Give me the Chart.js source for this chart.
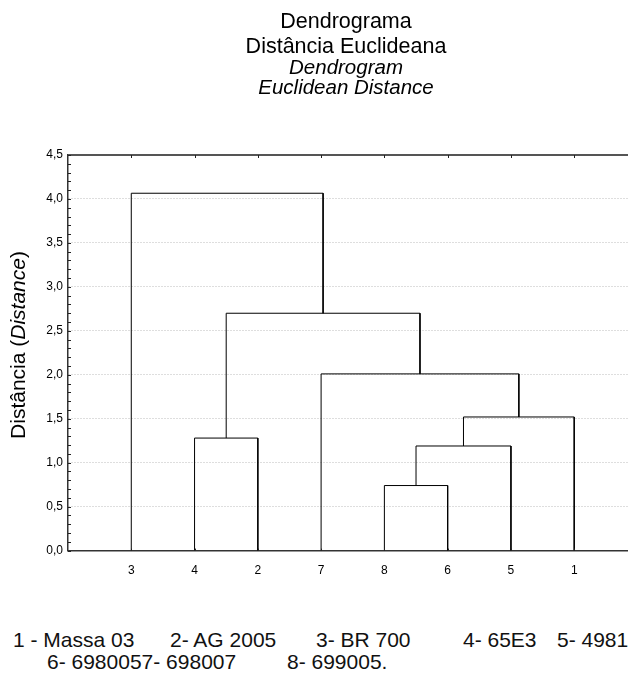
<!DOCTYPE html>
<html lang="pt">
<head>
    <meta charset="UTF-8">
    <title>Dendrograma - Distância Euclideana</title>
    <script src="https://cdn.jsdelivr.net/npm/chart.js"></script>
    <style>
        body { margin: 0; background: #fff; font-family: "Liberation Sans", Arial, sans-serif; }
        .wrap { position: relative; width: 628px; height: 673px; overflow: hidden; }
        .chart-box { position: absolute; left: 0; top: 0; width: 628px; height: 591px; }
        .legenda span { position: absolute; font-size: 21px; color: #111; white-space: pre; line-height: 24px; }
    </style>
</head>
<body>
<div class="wrap">
    <div class="chart-box"><canvas id="dendro"></canvas></div>
    <div class="legenda">
        <span style="top:628px; left:13px;">1 - Massa 03</span>
        <span style="top:628px; left:170px;">2- AG 2005</span>
        <span style="top:628px; left:316px;">3- BR 700</span>
        <span style="top:628px; left:463px;">4- 65E3</span>
        <span style="top:628px; left:557px;">5- 498111</span>
        <span style="top:650px; left:47px;">6- 6980057- 698007</span>
        <span style="top:650px; left:287px;">8- 699005.</span>
    </div>
</div>

<script>
    // folhas na ordem do eixo x
    const leafLabels = ['3', '4', '2', '7', '8', '6', '5', '1'];
    // cada fusao junta dois nos (0-7 = folhas, 8+ = fusoes anteriores)
    const mergeLeft   = [4, 8, 9, 3, 1, 12, 0];
    const mergeRight  = [5, 6, 7, 10, 2, 11, 13];
    const mergeHeight = [0.74, 1.19, 1.52, 2.01, 1.28, 2.70, 4.065];

    const titleLines = ['Dendrograma', 'Distância Euclideana'];
    const subtitleLines = ['Dendrogram', 'Euclidean Distance'];

    const fontFam = '"Liberation Sans", Arial, sans-serif';

    // posicao de cada no
    const nodeX = leafLabels.map((_, i) => i + 1);
    const nodeY = leafLabels.map(() => 0);
    const datasets = mergeHeight.map((h, k) => {
        const a = mergeLeft[k], b = mergeRight[k];
        const seg = [
            { x: nodeX[a], y: nodeY[a] },
            { x: nodeX[a], y: h },
            { x: nodeX[b], y: h },
            { x: nodeX[b], y: nodeY[b] }
        ];
        nodeX.push((nodeX[a] + nodeX[b]) / 2);
        nodeY.push(h);
        return {
            data: seg,
            showLine: true,
            borderColor: '#000',
            borderWidth: 1,
            pointRadius: 0,
            tension: 0,
            fill: false
        };
    });

    // titulos, moldura, marcas menores e titulo do eixo y
    const extras = {
        id: 'extras',
        afterDraw(chart) {
            const { ctx, chartArea: ca, scales } = chart;
            ctx.save();

            // titulos centrados sobre a area do grafico
            const cx = (ca.left + ca.right) / 2 - 2;
            ctx.fillStyle = '#000';
            ctx.textAlign = 'center';
            ctx.textBaseline = 'middle';
            ctx.font = `normal 21.5px ${fontFam}`;
            titleLines.forEach((t, i) => ctx.fillText(t, cx, 22 + i * 25));
            ctx.font = `italic 20.5px ${fontFam}`;
            subtitleLines.forEach((t, i) => ctx.fillText(t, cx, 68 + i * 20));

            ctx.strokeStyle = '#555';
            ctx.lineWidth = 2;
            ctx.beginPath();
            ctx.moveTo(ca.left, ca.top);
            ctx.lineTo(ca.right, ca.top);
            ctx.stroke();

            ctx.lineWidth = 1;
            ctx.strokeStyle = '#222';
            ctx.beginPath();
            for (let v = 0; v <= 4.5001; v += 0.1) {
                const y = Math.round(scales.y.getPixelForValue(v)) + 0.5;
                ctx.moveTo(ca.left, y);
                ctx.lineTo(ca.left + 3, y);
            }
            leafLabels.forEach((_, i) => {
                const x = Math.round(scales.x.getPixelForValue(i + 1)) + 0.5;
                ctx.moveTo(x, ca.top);
                ctx.lineTo(x, ca.top + 3);
                ctx.moveTo(x, ca.bottom);
                ctx.lineTo(x, ca.bottom - 2);
            });
            ctx.stroke();

            // "Distância (Distance)" com parte em italico
            const parts = [['Distância (', 'normal'], ['Distance', 'italic'], [')', 'normal']];
            const size = 21;
            let total = 0;
            parts.forEach(p => { ctx.font = `${p[1]} ${size}px ${fontFam}`; total += ctx.measureText(p[0]).width; });
            ctx.translate(19, 345);
            ctx.rotate(-Math.PI / 2);
            ctx.textAlign = 'left';
            let pos = -total / 2;
            parts.forEach(p => {
                ctx.font = `${p[1]} ${size}px ${fontFam}`;
                ctx.fillText(p[0], pos, 0);
                pos += ctx.measureText(p[0]).width;
            });
            ctx.restore();
        }
    };

    new Chart(document.getElementById('dendro'), {
        type: 'scatter',
        data: { datasets },
        plugins: [extras],
        options: {
            responsive: true,
            maintainAspectRatio: false,
            animation: false,
            layout: { padding: { left: 0, right: 0, top: 155, bottom: 0 } },
            plugins: {
                legend: { display: false },
                tooltip: { enabled: false }
            },
            scales: {
                x: {
                    type: 'linear',
                    min: 0,
                    max: 8.85,
                    afterBuildTicks: s => { s.ticks = leafLabels.map((_, i) => ({ value: i + 1 })); },
                    ticks: {
                        callback: v => leafLabels[v - 1],
                        color: '#000',
                        font: { family: fontFam, size: 12 },
                        padding: 13,
                        maxRotation: 0
                    },
                    grid: { drawOnChartArea: false, drawTicks: false },
                    border: { color: '#333', width: 1.5 }
                },
                y: {
                    min: 0,
                    max: 4.5,
                    afterFit: s => { s.width = 68; },
                    ticks: {
                        stepSize: 0.5,
                        callback: v => v.toFixed(1).replace('.', ','),
                        color: '#000',
                        font: { family: fontFam, size: 12 },
                        padding: 5
                    },
                    grid: { color: '#bdbdbd', drawTicks: false },
                    border: { color: '#333', width: 1.5, dash: [1, 2] }
                }
            }
        }
    });
</script>
</body>
</html>
